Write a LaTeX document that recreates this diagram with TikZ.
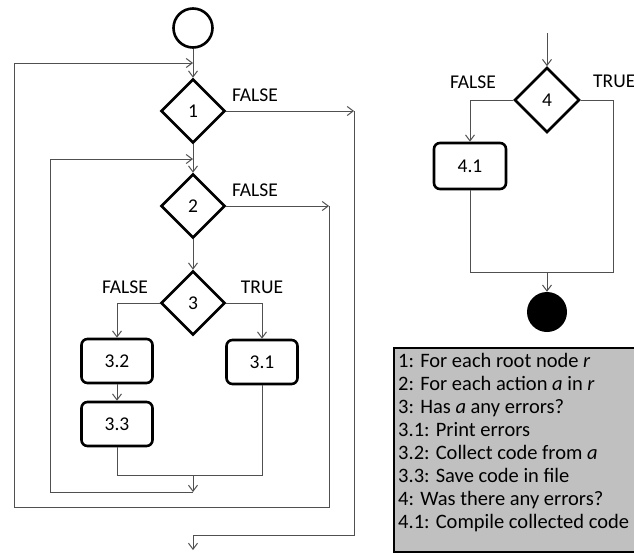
\documentclass[tikz,border=0pt]{standalone}
\usepackage{fontspec}
\setmainfont{Carlito}
\usetikzlibrary{shapes.geometric,arrows.meta}
\definecolor{conn}{HTML}{505050}
\definecolor{legfill}{HTML}{C0C0C0}
\begin{document}
\begin{tikzpicture}[x=1pt,y=-1pt,
  every node/.style={font=\fontsize{19.5}{23}\selectfont},
  dec/.style={diamond,draw=black,line width=2.6pt,minimum width=64pt,minimum height=64pt,inner sep=0pt,aspect=1},
  act/.style={rectangle,rounded corners=6pt,draw=black,line width=2.6pt,minimum width=71pt,minimum height=44pt,inner sep=0pt},
  conline/.style={draw=conn,line width=1pt},
  arr/.style={conline,-{Straight Barb[length=6pt,width=9pt]}},
  lab/.style={inner sep=0pt},
  legtext/.style={anchor=base west,inner sep=0pt,font=\fontsize{20.5}{24}\selectfont}]
\useasboundingbox (0,0) rectangle (634,554);
% left flowchart
\node[circle,draw=black,line width=2.6pt,minimum size=39pt,inner sep=0pt] (start) at (193,28) {};
\node[dec] (d1) at (193,111) {1};
\node[dec] (d2) at (193,206) {2};
\node[dec] (d3) at (193,303) {3};
\node[act] (b32) at (117,361) {3.2};
\node[act] (b33) at (117,424) {3.3};
\node[act] (b31) at (262,362) {3.1};
\node[lab] (f1) at (255,95) {FALSE};
\node[lab] (f2) at (255,190) {FALSE};
\node[lab] (f3) at (125,287) {FALSE};
\node[lab] (t3) at (262,287) {TRUE};
\coordinate (o1) at (14,63);
\coordinate (o1e) at (193,63);
\coordinate (o2) at (14,507);
\coordinate (i1) at (50,159);
\coordinate (i1e) at (193,159);
\coordinate (i2) at (50,492);
\coordinate (j1) at (193,475);
\coordinate (j2) at (193,492);
\coordinate (r2) at (329,206);
\coordinate (r2b) at (329,507);
\coordinate (r1) at (354,111);
\coordinate (r1b) at (354,535);
\coordinate (x1) at (193,535);
\coordinate (x2) at (193,550);
\coordinate (m33) at (117,475);
\coordinate (m31) at (262,475);
\draw[arr] (start.south) -- (d1.north);
\draw[arr] (d1.south) -- (d2.north);
\draw[arr] (d2.south) -- (d3.north);
\draw[arr] (d3.west) -| (b32.north);
\draw[arr] (d3.east) -| (b31.north);
\draw[arr] (b32.south) -- (b33.north);
\draw[conline] (b33.south) -- (m33) -- (m31) -- (b31.south);
\draw[arr] (j1) -- (j2);
\draw[conline] (j2) -- (i2) -- (i1);
\draw[arr] (i1) -- (i1e);
\draw[arr] (d2.east) -- (r2);
\draw[conline] (r2) -- (r2b) -- (o2) -- (o1);
\draw[arr] (o1) -- (o1e);
\draw[arr] (d1.east) -- (r1);
\draw[conline] (r1) -- (r1b) -- (x1);
\draw[arr] (x1) -- (x2);
% right flowchart
\coordinate (top4) at (547,33);
\node[dec,minimum width=65pt,minimum height=65pt] (d4) at (547,100) {4};
\node[act,minimum width=72pt,minimum height=46pt] (b41) at (470,166) {4.1};
\node[circle,fill=black,minimum size=40pt,inner sep=0pt] (end) at (547,312) {};
\node[lab] (f4) at (473,82) {FALSE};
\node[lab,anchor=west] (t4) at (593,81) {TRUE};
\coordinate (e4) at (613,100);
\coordinate (e4b) at (613,272);
\coordinate (m41) at (470,272);
\coordinate (j4) at (547,272);
\draw[arr] (top4) -- (d4.north);
\draw[arr] (d4.west) -| (b41.north);
\draw[conline] (d4.east) -- (e4) -- (e4b) -- (m41) -- (b41.south);
\draw[arr] (j4) -- (end.north);
% legend
\node[draw=black,line width=2pt,fill=legfill,minimum width=250pt,minimum height=204pt,anchor=north west,inner sep=0pt] (leg) at (393,347) {};
\node[legtext] (l1) at (398,367) {1: For each root node \textit{r}};
\node[legtext] (l2) at (398,390) {2: For each action \textit{a} in \textit{r}};
\node[legtext] (l3) at (398,413) {3: Has \textit{a} any errors?};
\node[legtext] (l4) at (398,436) {3.1: Print errors};
\node[legtext] (l5) at (398,459) {3.2: Collect code from \textit{a}};
\node[legtext] (l6) at (398,482) {3.3: Save code in file};
\node[legtext] (l7) at (398,505) {4: Was there any errors?};
\node[legtext] (l8) at (398,528) {4.1: Compile collected code};
\end{tikzpicture}
\end{document}
